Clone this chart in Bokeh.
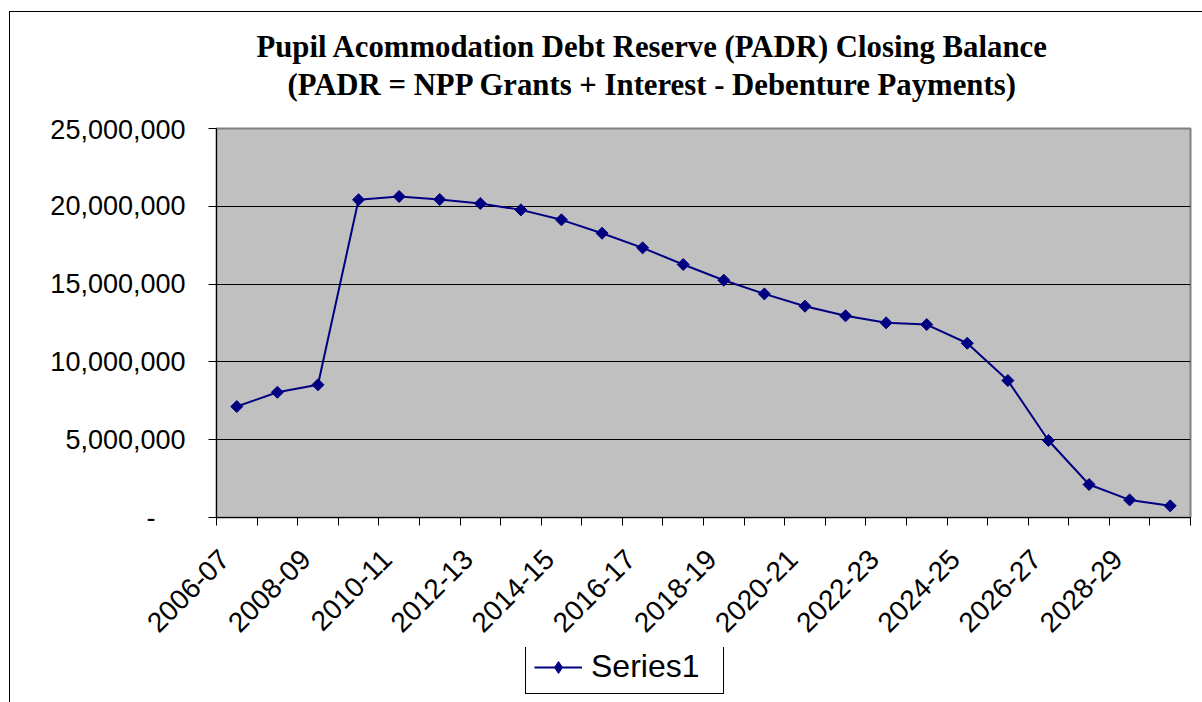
import math
from bokeh.plotting import figure
from bokeh.layouts import column
from bokeh.models import (FixedTicker, NumeralTickFormatter, Range1d, Legend, LegendItem, Label)
from bokeh.embed import file_html
from bokeh.resources import INLINE

categories = ["2006-07", "2007-08", "2008-09", "2009-10", "2010-11", "2011-12",
              "2012-13", "2013-14", "2014-15", "2015-16", "2016-17", "2017-18",
              "2018-19", "2019-20", "2020-21", "2021-22", "2022-23", "2023-24",
              "2024-25", "2025-26", "2026-27", "2027-28", "2028-29", "2029-30"]
series1 = [7130000, 8050000, 8530000, 20420000, 20630000, 20440000, 20180000,
           19770000, 19130000, 18270000, 17330000, 16260000, 15250000, 14370000,
           13580000, 12960000, 12510000, 12400000, 11200000, 8800000, 4950000,
           2120000, 1130000, 750000]
y_ticks = [0, 5000000, 10000000, 15000000, 20000000, 25000000]
title_line1 = "Pupil Acommodation Debt Reserve (PADR) Closing Balance"
title_line2 = "(PADR = NPP Grants + Interest - Debenture Payments)"
series_name = "Series1"

n = len(categories)
xs = list(range(n))
NAVY = "#000080"

# page geometry: bordered chart area starts at page (10, 12)
OX, OY = 10, 12
W = 1202 - OX
T_BOTTOM = 114          # page y where the title strip ends
M_BOTTOM = 647          # page y where the main chart ends / legend strip starts
H_T = T_BOTTOM - OY
H_MAIN = M_BOTTOM - T_BOTTOM
H_LEG = 702 - M_BOTTOM
PL, PR, PT, PB = 216, 1190, 128, 517   # plot area on the page
TITLE_SHIFT = 9


def strip(height):
    f = figure(width=W, height=height, output_backend="svg", toolbar_location=None,
               x_range=Range1d(0, 1), y_range=Range1d(0, 1), min_border=0,
               border_fill_color="white", background_fill_color="white", title=None)
    f.axis.visible = False
    f.grid.visible = False
    f.outline_line_color = None
    return f


# ---- title strip (its frame is aligned with the chart's frame) ----
t = strip(H_T)
for txt, base in [(title_line1, 55), (title_line2, 93)]:
    t.add_layout(Label(x=652 - PL, y=T_BOTTOM - base + TITLE_SHIFT,
                       x_units="screen", y_units="screen",
                       text=txt, text_align="center", text_baseline="alphabetic",
                       text_font="Liberation Serif", text_font_style="bold",
                       text_font_size="30.75px", text_color="black"))

# ---- main chart ----
p = figure(width=W, height=H_MAIN, output_backend="svg", toolbar_location=None,
           x_range=Range1d(-0.5, n - 0.5), y_range=Range1d(0, y_ticks[-1]),
           min_border_left=PL - OX, min_border_right=1202 - PR,
           min_border_top=PT - T_BOTTOM, min_border_bottom=M_BOTTOM - PB,
           background_fill_color="#C0C0C0", border_fill_color="white", title=None)
p.outline_line_color = "#808080"
p.outline_line_width = 2

# x axis: labels on every other category, tick marks between categories
label_pos = [i - 0.3 for i in xs[::2]]
p.xaxis.ticker = FixedTicker(ticks=label_pos, minor_ticks=[i - 0.5 for i in range(n + 1)])
p.xaxis.major_label_overrides = {pos: categories[i] for pos, i in zip(label_pos, xs[::2])}
p.xaxis.major_label_orientation = math.pi / 4
p.xaxis.major_tick_out = 0
p.xaxis.major_tick_in = 0
p.xaxis.minor_tick_out = 8
p.xaxis.minor_tick_in = 0
p.xaxis.minor_tick_line_color = "black"
p.xaxis.axis_line_color = "black"
p.xaxis.major_label_text_font = "Liberation Sans"
p.xaxis.major_label_text_font_size = "28px"
p.xaxis.major_label_text_color = "black"
p.xaxis.major_label_standoff = 29
p.xgrid.visible = False

# y axis
p.yaxis.ticker = FixedTicker(ticks=y_ticks)
p.yaxis.formatter = NumeralTickFormatter(format="0,0")
p.yaxis.major_label_overrides = {0: "-" + "\u00a0" * 4}
p.yaxis.major_tick_out = 8
p.yaxis.major_tick_in = 0
p.yaxis.minor_tick_line_color = None
p.yaxis.axis_line_color = "black"
p.yaxis.major_label_text_font = "Liberation Sans"
p.yaxis.major_label_text_font_size = "27px"
p.yaxis.major_label_text_color = "black"
p.yaxis.major_label_standoff = 23
p.ygrid.ticker = FixedTicker(ticks=y_ticks)
p.ygrid.grid_line_color = "black"
p.ygrid.grid_line_width = 1

p.line(xs, series1, line_color=NAVY, line_width=2)
p.scatter(xs, series1, marker="square", angle=math.pi / 4, size=8.5,
          fill_color=NAVY, line_color=NAVY)

# ---- legend strip ----
q = strip(H_LEG)
# the series drawn again here lies far outside this strip's range; it only feeds the legend
lg_line = q.line(xs, series1, line_color=NAVY, line_width=2)
lg_mark = q.scatter(xs, series1, marker="diamond", size=12,
                    fill_color=NAVY, line_color=NAVY)
legend = Legend(items=[LegendItem(label=series_name, renderers=[lg_line, lg_mark])],
                location=(525 - PL, H_LEG - 47))
legend.border_line_color = "black"
legend.border_line_alpha = 1
legend.border_line_width = 1
legend.background_fill_color = "white"
legend.background_fill_alpha = 1
legend.label_text_font = "Liberation Sans"
legend.label_text_font_size = "32px"
legend.label_text_color = "black"
legend.glyph_width = 48
legend.glyph_height = 30
legend.label_height = 30
legend.label_width = 124
legend.padding = 8
legend.label_standoff = 9
legend.margin = 0
legend.spacing = 0
q.add_layout(legend, "center")

layout = column(t, p, q, spacing=0,
                styles={"margin-left": "9px", "margin-top": "11px",
                        "border-left": "1px solid #000000",
                        "border-top": "1px solid #000000"})

open("out.html", "w").write(file_html(layout, INLINE))
